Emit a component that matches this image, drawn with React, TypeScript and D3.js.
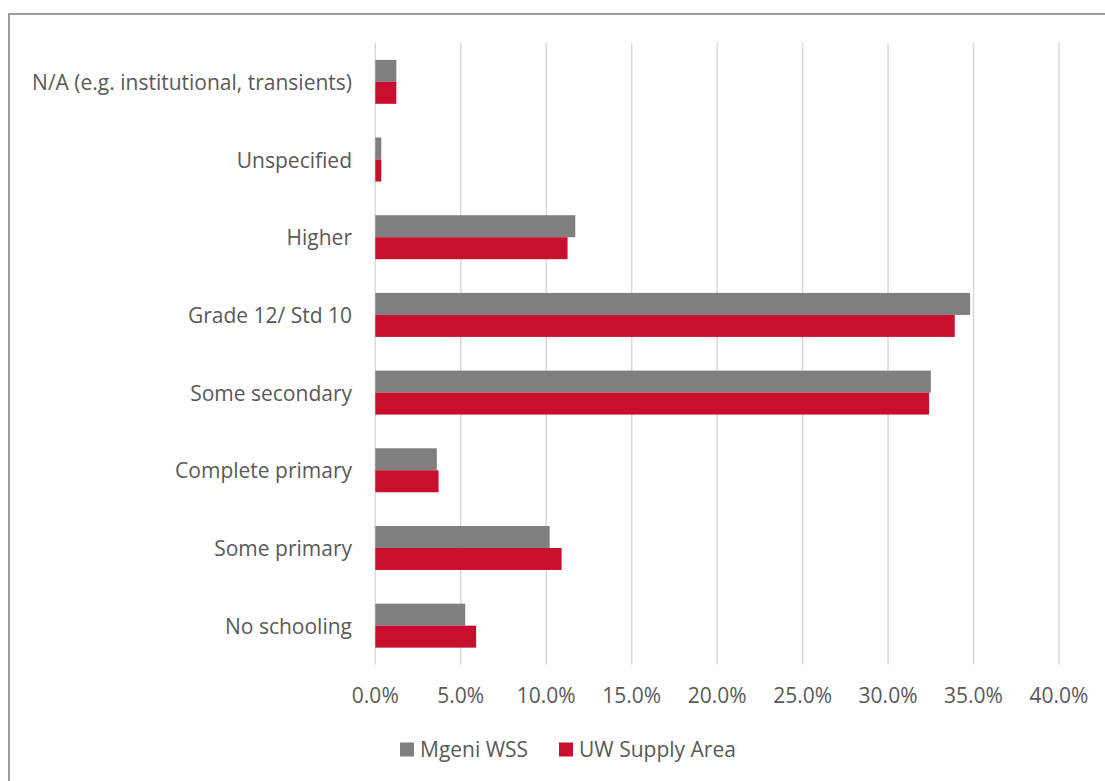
import React from "react";
import * as d3 from "d3";

const categories = [
  "N/A (e.g. institutional, transients)",
  "Unspecified",
  "Higher",
  "Grade 12/ Std 10",
  "Some secondary",
  "Complete primary",
  "Some primary",
  "No schooling",
];
const mgeniWSS = [1.23, 0.35, 11.7, 34.8, 32.5, 3.6, 10.2, 5.26];
const uwSupplyArea = [1.23, 0.35, 11.25, 33.9, 32.4, 3.7, 10.9, 5.9];
const seriesNames = ["Mgeni WSS", "UW Supply Area"];
const seriesColors = ["#7f7f7f", "#c8102e"];
const xTicks = [0, 5, 10, 15, 20, 25, 30, 35, 40];

const W = 1105;
const H = 781;
const FONT = "'Open Sans', 'Noto Sans', sans-serif";
const TEXT = "#595959";
const FS = 21;

export default function App() {
  const x = d3.scaleLinear().domain([0, 40]).range([375.3, 1059]);
  const y = d3.scaleBand<string>().domain(categories).range([43, 664.5]).paddingInner(0.434).paddingOuter(0.217);
  const sub = d3.scaleBand<number>().domain([0, 1]).range([0, y.bandwidth()]);
  const series = [mgeniWSS, uwSupplyArea];

  return (
    <svg width={W} height={H} style={{ position: "absolute", left: 0, top: 0 }}>
      <rect x={0} y={0} width={W} height={H} fill="#fff" />
      <rect x={9} y={14} width={W + 10} height={H + 10} fill="none" stroke="#7f7f7f" strokeWidth={1.5} />
      {xTicks.map((t) => (
        <line key={t} x1={x(t)} x2={x(t)} y1={43} y2={664.5} stroke="#d9d9d9" strokeWidth={1.5} />
      ))}
      {categories.map((c, i) => (
        <g key={c}>
          {series.map((s, k) => (
            <rect
              key={k}
              x={x(0)}
              y={(y(c) as number) + (sub(k) as number)}
              width={x(s[i]) - x(0)}
              height={sub.bandwidth()}
              fill={seriesColors[k]}
            />
          ))}
          <text
            x={352}
            y={(y(c) as number) + y.bandwidth() / 2}
            textAnchor="end"
            dominantBaseline="central"
            fontFamily={FONT}
            fontSize={FS}
            fill={TEXT}
          >
            {c}
          </text>
        </g>
      ))}
      {xTicks.map((t) => (
        <text key={t} x={x(t)} y={702.5} textAnchor="middle" fontFamily={FONT} fontSize={FS} fill={TEXT}>
          {d3.format(".1f")(t) + "%"}
        </text>
      ))}
      {seriesNames.map((n, k) => {
        const lx = [400, 559][k];
        return (
          <g key={n}>
            <rect x={lx} y={742.5} width={14} height={14} fill={seriesColors[k]} />
            <text x={lx + 20} y={756.5} fontFamily={FONT} fontSize={FS} fill={TEXT}>
              {n}
            </text>
          </g>
        );
      })}
    </svg>
  );
}
